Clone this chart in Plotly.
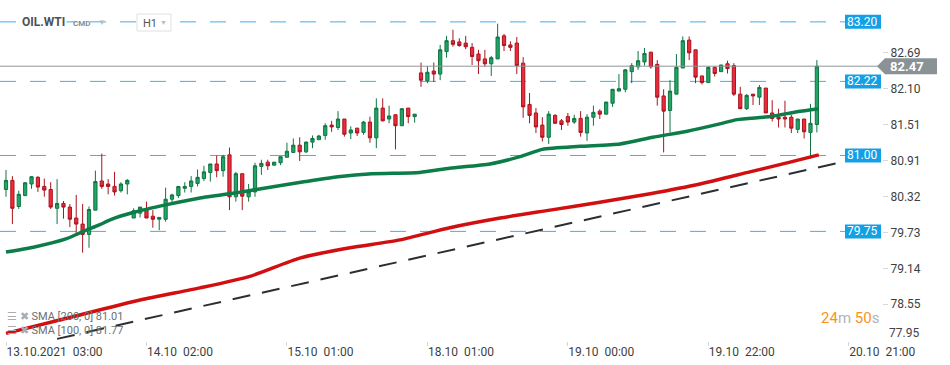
import plotly.graph_objects as go

# ---------------- data ----------------
opens = [80.44, 80.59, 80.16, 80.34, 80.53, 80.64, 80.49, 80.44, 80.13, 80.21,
         80.15, 79.97, 79.87, 79.70, 80.10, 80.58, 80.53, 80.49, 80.42, 80.53,
         79.97, 80.05, 80.11, 80.00, 79.95, 79.95, 80.28, 80.34, 80.46, 80.49,
         80.54, 80.62, 80.72, 80.86, 80.75, 81.01, 80.32, 80.70, 80.32, 80.40,
         80.82, 80.89, 80.84, 80.88, 80.97, 81.05, 81.17, 81.06, 81.22, 81.26,
         81.33, 81.50, 81.46, 81.60, 81.37, 81.45, 81.38, 81.55, 81.29, 81.78,
         81.60, 81.67, 81.49, 81.78, 81.64, 82.36, 82.23, 82.39, 82.34, 82.71,
         82.89, 82.87, 82.85, 82.78, 82.67, 82.59, 82.51, 82.59, 82.97, 82.82,
         82.85, 82.52, 81.84, 81.70, 81.50, 81.30, 81.66, 81.57, 81.64, 81.55,
         81.61, 81.37, 81.63, 81.73, 81.68, 81.86, 82.06, 82.09, 82.38, 82.46,
         82.54, 82.70, 82.50, 81.98, 81.74, 82.01, 82.44, 82.90, 82.74, 82.31,
         82.20, 82.45, 82.38, 82.51, 82.48, 82.01, 81.77, 82.01, 81.96, 82.11,
         81.70, 81.63, 81.63, 81.63, 81.43, 81.60, 81.38, 81.51]
highs = [80.76, 80.66, 80.42, 80.56, 80.66, 80.66, 80.62, 80.56, 80.61, 80.25,
         80.20, 80.35, 80.20, 80.16, 80.75, 81.03, 80.61, 80.73, 80.56, 80.61,
         80.13, 80.15, 80.24, 80.10, 79.98, 80.47, 80.37, 80.49, 80.56, 80.66,
         80.77, 80.83, 80.86, 81.00, 81.01, 81.13, 80.73, 80.70, 80.53, 80.88,
         80.93, 80.93, 80.89, 80.98, 81.21, 81.28, 81.30, 81.23, 81.33, 81.34,
         81.53, 81.57, 81.73, 81.60, 81.48, 81.45, 81.57, 81.64, 81.94, 81.94,
         81.82, 81.68, 81.78, 81.78, 81.68, 82.53, 82.47, 82.53, 82.82, 82.97,
         83.07, 82.93, 82.97, 82.85, 82.74, 82.74, 82.64, 83.17, 83.00, 82.88,
         82.95, 82.62, 82.03, 81.78, 81.63, 81.73, 81.68, 81.60, 81.70, 81.67,
         81.73, 81.68, 81.82, 81.76, 81.88, 82.09, 82.34, 82.42, 82.52, 82.72,
         82.77, 82.71, 82.57, 82.09, 82.24, 82.67, 82.96, 82.96, 82.74, 82.31,
         82.47, 82.47, 82.49, 82.56, 82.52, 82.13, 82.01, 82.01, 82.16, 82.11,
         81.91, 81.77, 81.90, 81.67, 81.60, 81.60, 81.85, 82.57]
lows = [80.32, 79.87, 80.12, 80.33, 80.45, 80.40, 80.32, 80.12, 79.87, 79.96,
        79.82, 79.70, 79.40, 79.48, 80.10, 80.45, 80.36, 80.34, 80.39, 80.36,
        79.97, 79.98, 79.97, 79.81, 79.77, 79.91, 80.21, 80.30, 80.39, 80.39,
        80.49, 80.58, 80.57, 80.64, 80.65, 80.10, 80.24, 80.10, 80.24, 80.32,
        80.68, 80.76, 80.84, 80.84, 80.97, 81.05, 80.91, 81.04, 81.12, 81.26,
        81.26, 81.39, 81.42, 81.31, 81.27, 81.32, 81.34, 81.21, 81.12, 81.56,
        81.53, 81.10, 81.49, 81.53, 81.54, 82.13, 82.19, 82.21, 82.24, 82.61,
        82.79, 82.79, 82.75, 82.49, 82.34, 82.46, 82.31, 82.59, 82.72, 82.72,
        82.34, 81.62, 81.53, 81.37, 81.23, 81.19, 81.52, 81.42, 81.49, 81.52,
        81.31, 81.24, 81.49, 81.60, 81.68, 81.80, 82.06, 82.04, 82.19, 82.41,
        82.48, 82.43, 81.82, 81.05, 81.38, 82.01, 82.44, 82.57, 82.19, 82.17,
        82.20, 82.30, 82.38, 82.35, 81.98, 81.77, 81.75, 81.83, 81.83, 81.70,
        81.56, 81.46, 81.46, 81.37, 81.37, 81.28, 80.95, 81.38]
closes = [80.59, 80.13, 80.36, 80.55, 80.65, 80.48, 80.43, 80.15, 80.21, 80.15,
          79.95, 79.87, 79.70, 80.11, 80.57, 80.49, 80.49, 80.40, 80.53, 80.59,
          80.09, 80.15, 79.97, 79.95, 79.98, 80.28, 80.35, 80.49, 80.49, 80.58,
          80.64, 80.73, 80.86, 80.75, 80.98, 80.32, 80.70, 80.33, 80.40, 80.83,
          80.87, 80.83, 80.89, 80.98, 81.07, 81.17, 81.06, 81.22, 81.28, 81.32,
          81.49, 81.47, 81.60, 81.35, 81.42, 81.37, 81.55, 81.29, 81.78, 81.57,
          81.65, 81.49, 81.77, 81.64, 81.68, 82.24, 82.37, 82.34, 82.74, 82.89,
          82.83, 82.81, 82.79, 82.63, 82.56, 82.51, 82.61, 82.95, 82.81, 82.78,
          82.48, 81.80, 81.66, 81.47, 81.30, 81.68, 81.53, 81.51, 81.55, 81.61,
          81.38, 81.63, 81.71, 81.68, 81.88, 82.09, 82.10, 82.41, 82.48, 82.56,
          82.68, 82.46, 81.96, 81.73, 82.06, 82.45, 82.89, 82.69, 82.29, 82.20,
          82.45, 82.35, 82.49, 82.43, 82.01, 81.77, 81.99, 81.98, 82.12, 81.70,
          81.61, 81.60, 81.60, 81.45, 81.60, 81.39, 81.53, 82.47]

# SMA 100 (green) and SMA 200 (red), read at candle positions
sma100_idx = [0, 4.3, 9.5, 12.1, 14.7, 16.3, 19.9, 25.2, 30.4, 36.4, 41.6, 46.9,
              52, 57.3, 64.8, 69.5, 75.8, 80.5, 84, 89.9, 96.2, 101.3, 106.7,
              111.8, 114.5, 119.7, 123.9, 127.3]
sma100_val = [79.41, 79.49, 79.63, 79.75, 79.86, 79.94, 80.06, 80.19, 80.30, 80.39,
              80.48, 80.57, 80.65, 80.70, 80.72, 80.79, 80.86, 80.98, 81.10, 81.15,
              81.19, 81.30, 81.40, 81.52, 81.59, 81.64, 81.72, 81.77]
sma200_idx = [0, 9.5, 21, 30.4, 38.2, 46, 53.9, 61.7, 69.5, 77.4, 85.2, 93,
              100.9, 108.7, 116.5, 122.8, 127.3]
sma200_val = [78.07, 78.32, 78.62, 78.82, 79.01, 79.31, 79.48, 79.61, 79.81, 79.97,
              80.10, 80.23, 80.37, 80.53, 80.73, 80.89, 81.01]

# Trend line (drawing)
trend_idx = [8, 130]
trend_val = [77.98, 80.87]

# Horizontal levels
levels = [83.20, 82.22, 81.00, 79.75]
last_price = 82.47

# Axes
x_tick_idx = [0, 22, 44, 66, 88, 110, 132]
x_tick_text = ["13.10.2021", "14.10", "15.10", "18.10", "19.10", "19.10", "20.10"]
x_tick_time = ["03:00", "02:00", "01:00", "01:00", "00:00", "22:00", "21:00"]
y_tick_vals = [78.55, 79.14, 79.73, 80.32, 80.91, 81.51, 82.10, 82.69]
y_bottom_label = 77.95

sma_legend = [("SMA [200, 0]", 81.01), ("SMA [100, 0]", 81.77)]

# ---------------- figure ----------------
FONT = "Roboto, Arial, sans-serif"
W, H = 950, 365
ML, MR, MT, MB = 0, 68, 0, 24
PLOT_W = W - ML - MR

x_idx = list(range(len(opens)))

fig = go.Figure()

fig.add_trace(go.Candlestick(
    x=x_idx, open=opens, high=highs, low=lows, close=closes,
    increasing=dict(line=dict(color="#0f7440", width=1), fillcolor="#22a567"),
    decreasing=dict(line=dict(color="#a8141f", width=1), fillcolor="#ee2b3b"),
    whiskerwidth=0, hoverinfo="skip", showlegend=False,
))

fig.add_trace(go.Scatter(
    x=sma200_idx, y=sma200_val, mode="lines",
    line=dict(color="#d20f10", width=3.5, shape="spline", smoothing=0.6),
    hoverinfo="skip", showlegend=False,
))
fig.add_trace(go.Scatter(
    x=sma100_idx, y=sma100_val, mode="lines",
    line=dict(color="#0c7d48", width=3.5, shape="spline", smoothing=0.6),
    hoverinfo="skip", showlegend=False,
))
fig.add_trace(go.Scatter(
    x=trend_idx, y=trend_val, mode="lines",
    line=dict(color="#2b2f33", width=2, dash="18px,12px"),
    hoverinfo="skip", showlegend=False,
))

shapes = []
annotations = []

# dashed level lines + blue price boxes
for lv in levels:
    shapes.append(dict(type="line", xref="paper", yref="y", x0=0, x1=845 / PLOT_W,
                       y0=lv, y1=lv, layer="below",
                       line=dict(color="#3fb0ea", width=1, dash="16px,14px")))
    shapes.append(dict(type="rect", xref="paper", yref="y",
                       xsizemode="pixel", ysizemode="pixel", xanchor=1, yanchor=lv,
                       x0=-37, x1=-1, y0=-7, y1=7,
                       fillcolor="#12a0e6", line=dict(width=0), layer="above"))
    annotations.append(dict(xref="paper", yref="y", x=1, y=lv, xanchor="right",
                            yanchor="middle", xshift=-3, showarrow=False,
                            text=f"{lv:.2f}",
                            font=dict(family=FONT, size=12, color="white")))

# last price line + gray arrow label
shapes.append(dict(type="line", xref="paper", yref="y", x0=0, x1=1,
                   y0=last_price, y1=last_price, layer="above",
                   line=dict(color="#8f969a", width=1)))
shapes.append(dict(type="path", xref="paper", yref="y",
                   xsizemode="pixel", ysizemode="pixel", xanchor=1, yanchor=last_price,
                   path="M -5,0 L 3,8 L 55,8 L 55,-8 L 3,-8 Z",
                   fillcolor="#8a9295", line=dict(width=0), layer="above"))
annotations.append(dict(xref="paper", yref="y", x=1, y=last_price, xanchor="left",
                        yanchor="middle", xshift=6, showarrow=False,
                        text=f"<b>{last_price:.2f}</b>",
                        font=dict(family=FONT, size=13, color="white")))

# bottom y label
annotations.append(dict(xref="paper", yref="paper", x=1, y=0, xanchor="left",
                        yanchor="bottom", xshift=5, yshift=-1, showarrow=False,
                        text=f"{y_bottom_label:.2f}",
                        font=dict(family=FONT, size=12, color="#444")))

# header
annotations.append(dict(xref="paper", yref="paper", x=20 / PLOT_W, y=1, xanchor="left",
                        yanchor="top", yshift=-13, showarrow=False, bgcolor="white",
                        text="<b>OIL.WTI</b>",
                        font=dict(family=FONT, size=12, color="#4d5256")))
annotations.append(dict(xref="paper", yref="paper", x=71 / PLOT_W, y=1, xanchor="left",
                        yanchor="top", yshift=-17, showarrow=False,
                        text="<b>CMD</b>",
                        font=dict(family=FONT, size=8, color="#7d8f9c")))
annotations.append(dict(xref="paper", yref="paper", x=96 / PLOT_W, y=1, xanchor="left",
                        yanchor="top", yshift=-16, showarrow=False,
                        text="▼", font=dict(family=FONT, size=8, color="#b8bcbf")))
shapes.append(dict(type="rect", xref="paper", yref="paper",
                   xsizemode="pixel", ysizemode="pixel", xanchor=0, yanchor=1,
                   x0=137, x1=171, y0=-14, y1=-31,
                   fillcolor="white", line=dict(color="#dcdfe1", width=1), layer="above"))
annotations.append(dict(xref="paper", yref="paper", x=141 / PLOT_W, y=1, xanchor="left",
                        yanchor="top", yshift=-15, showarrow=False,
                        text="H1", font=dict(family=FONT, size=11, color="#555")))
annotations.append(dict(xref="paper", yref="paper", x=158 / PLOT_W, y=1, xanchor="left",
                        yanchor="top", yshift=-17, showarrow=False,
                        text="▼", font=dict(family=FONT, size=7, color="#b8bcbf")))

# SMA legend (bottom-left)
for i, (name, val) in enumerate(sma_legend):
    yshift = 16 - 14 * i
    annotations.append(dict(xref="paper", yref="paper", x=5 / PLOT_W, y=0,
                            xanchor="left", yanchor="bottom", yshift=yshift, showarrow=False,
                            text=("<span style='color:#a9adb0'>☰ ✖</span> "
                                  f"{name} {val:.2f}"),
                            font=dict(family=FONT, size=11, color="#6b6f73")))

# countdown
annotations.append(dict(xref="paper", yref="paper", x=881 / PLOT_W, y=0,
                        xanchor="right", yanchor="bottom", yshift=12, showarrow=False,
                        text=("<span style='color:#f7941d'>24</span>"
                              "<span style='color:#b0b4b7'>m</span> "
                              "<span style='color:#f7941d'>50</span>"
                              "<span style='color:#b0b4b7'>s</span>"),
                        font=dict(family=FONT, size=15)))

x_ticktext = [f"{d}\u00a0\u00a0{t}" for d, t in zip(x_tick_text, x_tick_time)]

fig.update_layout(
    width=W, height=H,
    margin=dict(l=ML, r=MR, t=MT, b=MB),
    paper_bgcolor="white", plot_bgcolor="white",
    showlegend=False, hovermode=False,
    boxgap=0.28,
    font=dict(family=FONT, size=12, color="#444"),
    xaxis=dict(
        range=[-0.94, 137.2], rangeslider=dict(visible=False),
        showgrid=False, zeroline=False, showline=False,
        tickmode="array", tickvals=x_tick_idx, ticktext=x_ticktext,
        ticks="outside", ticklen=4, tickcolor="#d5d8da",
        ticklabelposition="outside right",
        tickfont=dict(family=FONT, size=12, color="#3c3f42"),
    ),
    yaxis=dict(
        range=[77.945, 83.56], side="right",
        showgrid=False, zeroline=False, showline=False,
        tickmode="array", tickvals=y_tick_vals,
        ticktext=[f"{v:.2f}" for v in y_tick_vals],
        ticks="outside", ticklen=5, tickcolor="#d5d8da",
        tickfont=dict(family=FONT, size=12, color="#3c3f42"),
    ),
    shapes=shapes, annotations=annotations,
)

fig.write_html("out.html", config={"displayModeBar": False},
               post_script="document.body.style.margin='0';")
